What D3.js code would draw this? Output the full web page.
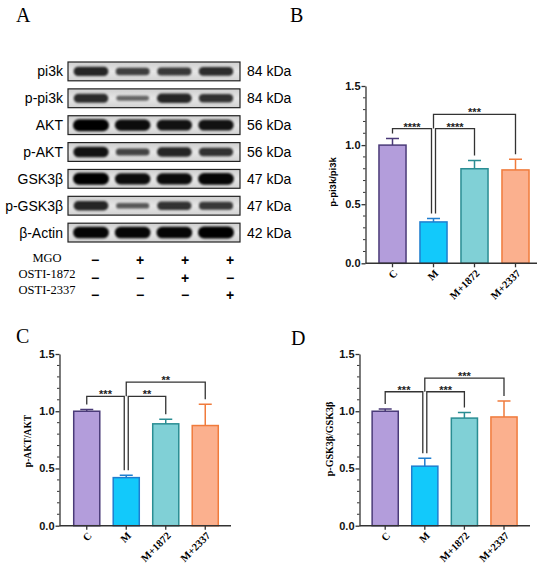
<!DOCTYPE html>
<html>
<head>
<meta charset="utf-8">
<script src="https://cdn.jsdelivr.net/npm/d3@7/dist/d3.min.js"></script>
<style>
  body { margin: 0; background: #fff; }
  svg { display: block; }
</style>
</head>
<body>
<div id="fig"></div>
<script>
// ---- data ----
var groups = ["C", "M", "M+1872", "M+2337"];

var pi3kMean = [1.00, 0.35, 0.80, 0.79];
var pi3kSd   = [0.055, 0.03, 0.07, 0.09];
var pi3kSig  = ["****", "****", "***"];
var pi3kSigAt = [1.14, 1.14, 1.26];

var aktMean = [1.00, 0.42, 0.89, 0.875];
var aktSd   = [0.015, 0.02, 0.04, 0.185];
var aktSig  = ["***", "**", "**"];
var aktSigAt = [1.13, 1.13, 1.255];

var gskMean = [1.00, 0.52, 0.94, 0.95];
var gskSd   = [0.02, 0.07, 0.05, 0.14];
var gskSig  = ["***", "***", "***"];
var gskSigAt = [1.17, 1.17, 1.29];

var comparisons = [[0, 1], [1, 2], [1, 3]];
var yMajor = [0, 0.5, 1.0, 1.5];

var blotRows = ["pi3k", "p-pi3k", "AKT", "p-AKT", "GSK3β", "p-GSK3β", "β-Actin"];
var blotKda = ["84 kDa", "84 kDa", "56 kDa", "56 kDa", "47 kDa", "47 kDa", "42 kDa"];
// relative band signal, lanes 1-4
var bandSignal = [
    [0.70, 0.50, 0.55, 0.65],
    [0.65, 0.20, 0.70, 0.60],
    [1.00, 0.90, 0.85, 0.85],
    [0.85, 0.45, 0.70, 0.60],
    [1.00, 0.90, 0.90, 0.95],
    [0.70, 0.30, 0.60, 0.55],
    [0.95, 0.95, 0.95, 1.00]
];
var treatments = ["MGO", "OSTI-1872", "OSTI-2337"];
var treatSigns = [
    ["−", "+", "+", "+"],
    ["−", "−", "+", "−"],
    ["−", "−", "−", "+"]
];

var fillColors = ["#b39ddb", "#12c9fb", "#80d0d6", "#fbb08e"];
var strokeColors = ["#4a3a78", "#1f7ecf", "#2a8d93", "#f07b3c"];

var serif = "'Liberation Serif', 'Times New Roman', serif";
var sans = "'Liberation Sans', Arial, sans-serif";

var W = 550, H = 568;
var svg = d3.select("#fig").append("svg")
    .attr("width", W)
    .attr("height", H);

var defs = svg.append("defs");
defs.append("filter")
    .attr("id", "blur")
    .attr("x", "-30%").attr("y", "-80%")
    .attr("width", "160%").attr("height", "260%")
    .append("feGaussianBlur")
    .attr("stdDeviation", "1.3 1");

var boxGrad = defs.append("linearGradient")
    .attr("id", "boxGrad")
    .attr("x1", "0%").attr("y1", "0%")
    .attr("x2", "0%").attr("y2", "100%");
boxGrad.append("stop").attr("offset", "0%").attr("stop-color", "#cfcfcf");
boxGrad.append("stop").attr("offset", "50%").attr("stop-color", "#e6e6e6");
boxGrad.append("stop").attr("offset", "100%").attr("stop-color", "#d2d2d2");

// panel letters
var letters = [["A", 16, 22], ["B", 290, 22], ["C", 16, 343], ["D", 291, 345]];
svg.selectAll(".letter")
    .data(letters)
    .join("text")
    .attr("class", "letter")
    .attr("x", d => d[1])
    .attr("y", d => d[2])
    .text(d => d[0])
    .style("font-family", serif)
    .style("font-size", "20px");

// ---- panel A: blot ----
function drawBlot() {
    var g = svg.append("g");
    var rowScale = d3.scaleBand()
        .domain(blotRows)
        .range([62, 242])
        .paddingInner(0.3)
        .paddingOuter(0);
    var laneScale = d3.scalePoint()
        .domain([0, 1, 2, 3])
        .range([91, 216]);
    var thick = d3.scaleLinear().domain([0, 1]).range([3, 12]);
    var dark = d3.scaleLinear().domain([0, 1]).range([0.45, 1]);

    var rows = g.selectAll(".blotRow")
        .data(blotRows.map((r, i) => ({ name: r, kda: blotKda[i], sig: bandSignal[i] })))
        .join("g")
        .attr("class", "blotRow")
        .attr("transform", d => `translate(0,${rowScale(d.name)})`);

    rows.append("rect")
        .attr("x", 68)
        .attr("y", 0)
        .attr("width", 172)
        .attr("height", rowScale.bandwidth())
        .attr("fill", "url(#boxGrad)");

    rows.selectAll(".band")
        .data(d => d.sig)
        .join("rect")
        .attr("class", "band")
        .attr("x", (d, i) => laneScale(i) - 16 - d * 2)
        .attr("width", d => 32 + d * 4)
        .attr("y", d => rowScale.bandwidth() / 2 - thick(d) / 2)
        .attr("height", d => thick(d))
        .attr("rx", d => thick(d) / 2)
        .attr("fill", "#050505")
        .attr("opacity", d => dark(d))
        .attr("filter", "url(#blur)");

    rows.append("rect")
        .attr("x", 68)
        .attr("y", 0)
        .attr("width", 172)
        .attr("height", rowScale.bandwidth())
        .attr("fill", "none")
        .attr("stroke", "#222")
        .attr("stroke-width", 1.2);

    rows.append("text")
        .attr("x", 63)
        .attr("y", rowScale.bandwidth() / 2 + 5)
        .attr("text-anchor", "end")
        .text(d => d.name)
        .style("font-family", sans)
        .style("font-size", "14px");

    rows.append("text")
        .attr("x", 247)
        .attr("y", rowScale.bandwidth() / 2 + 5)
        .text(d => d.kda)
        .style("font-family", sans)
        .style("font-size", "14px");

    // treatment table
    var labelY = d3.scalePoint().domain(treatments).range([258, 290]);
    var signY = d3.scalePoint().domain(treatments).range([260, 295]);
    var signX = d3.scalePoint().domain([0, 1, 2, 3]).range([95, 230]);

    g.selectAll(".treat")
        .data(treatments)
        .join("text")
        .attr("class", "treat")
        .attr("x", 47)
        .attr("y", d => labelY(d) + 4)
        .attr("text-anchor", "middle")
        .text(d => d)
        .style("font-family", serif)
        .style("font-size", "12.5px");

    treatments.forEach((t, ti) => {
        g.selectAll(".sign" + ti)
            .data(treatSigns[ti])
            .join("text")
            .attr("class", "sign" + ti)
            .attr("x", (d, i) => signX(i))
            .attr("y", d => signY(t) + 5)
            .attr("text-anchor", "middle")
            .text(d => d)
            .style("font-family", sans)
            .style("font-weight", "bold")
            .style("font-size", "14px");
    });
}

// ---- bar charts ----
function drawBars(cfg) {
    var g = svg.append("g");
    var x = d3.scaleBand()
        .domain(groups)
        .range(cfg.xRange)
        .paddingInner(0.34)
        .paddingOuter(0.17);
    var y = d3.scaleLinear()
        .domain([0, 1.5])
        .range(cfg.yRange);
    var cx = d => x(d) + x.bandwidth() / 2;
    var data = groups.map((k, i) => ({ key: k, mean: cfg.mean[i], sd: cfg.sd[i], i: i }));

    // bars
    g.selectAll(".bar")
        .data(data)
        .join("rect")
        .attr("class", "bar")
        .attr("x", d => x(d.key))
        .attr("y", d => y(d.mean))
        .attr("width", x.bandwidth())
        .attr("height", d => y(0) - y(d.mean))
        .attr("fill", d => fillColors[d.i])
        .attr("stroke", d => strokeColors[d.i])
        .attr("stroke-width", 1.5);

    // error bars
    g.selectAll(".err")
        .data(data)
        .join("path")
        .attr("class", "err")
        .attr("d", d => {
            var c = cx(d.key), top = y(d.mean + d.sd);
            return `M${c},${y(d.mean)}V${top}M${c - 6.5},${top}H${c + 6.5}`;
        })
        .attr("fill", "none")
        .attr("stroke", d => strokeColors[d.i])
        .attr("stroke-width", 1.5);

    // y axis
    var yAxis = g.append("g")
        .attr("transform", `translate(${cfg.axisX},0)`)
        .call(d3.axisLeft(y)
            .tickValues(yMajor)
            .tickFormat(d3.format(".1f"))
            .tickSize(4)
            .tickSizeOuter(0)
            .tickPadding(1));
    yAxis.selectAll("text")
        .style("font-family", sans)
        .style("font-weight", "bold")
        .style("font-size", "11px")
        .attr("fill", "#111");
    yAxis.selectAll("line, path").attr("stroke", "#333").attr("stroke-width", 1.3);

    var minor = d3.range(0, 15).filter(v => v % 5 !== 0).map(v => v / 10);
    g.selectAll(".minor")
        .data(minor)
        .join("line")
        .attr("class", "minor")
        .attr("x1", cfg.axisX - 2.5)
        .attr("x2", cfg.axisX)
        .attr("y1", d => y(d))
        .attr("y2", d => y(d))
        .attr("stroke", "#333")
        .attr("stroke-width", 1);

    // x axis
    var xAxis = g.append("g")
        .attr("transform", `translate(0,${y(0)})`)
        .call(d3.axisBottom(x).tickSize(4).tickFormat(""));
    xAxis.select(".domain").remove();
    xAxis.selectAll("line").attr("stroke", "#333").attr("stroke-width", 1.3);
    g.append("line")
        .attr("x1", cfg.axisX)
        .attr("x2", cfg.xEnd)
        .attr("y1", y(0))
        .attr("y2", y(0))
        .attr("stroke", "#333")
        .attr("stroke-width", 1.5);

    g.selectAll(".xlab")
        .data(groups)
        .join("text")
        .attr("class", "xlab")
        .attr("transform", d => `translate(${cx(d) + 3},${y(0) + 8}) rotate(-45)`)
        .attr("text-anchor", "end")
        .attr("dy", "0.35em")
        .text(d => d)
        .style("font-family", serif)
        .style("font-weight", "bold")
        .style("font-size", "10.5px");

    // y label
    g.append("text")
        .attr("transform", `translate(${cfg.labelX},${cfg.labelY}) rotate(-90)`)
        .attr("text-anchor", "middle")
        .text(cfg.ylabel)
        .style("font-family", cfg.labelFont)
        .style("font-weight", "bold")
        .style("font-size", cfg.labelSize);

    // significance brackets
    var legEnd = i => y(cfg.mean[i] + cfg.sd[i]) - 5;
    comparisons.forEach((pair, k) => {
        var a = pair[0], b = pair[1];
        var lineY = y(cfg.sigAt[k]);
        var xa = cx(groups[a]), xb = cx(groups[b]);
        var ya = legEnd(a), yb = legEnd(b);
        if (k === 0) xb -= 2;
        if (k === 1) xa += 2;
        if (k === 2) ya = y(cfg.sigAt[1]);
        g.append("path")
            .attr("d", `M${xa},${ya}V${lineY}H${xb}V${yb}`)
            .attr("fill", "none")
            .attr("stroke", "#333")
            .attr("stroke-width", 1.3);
        g.append("text")
            .attr("x", (xa + xb) / 2)
            .attr("y", lineY + 2)
            .attr("text-anchor", "middle")
            .text(cfg.sig[k])
            .style("font-family", sans)
            .style("font-weight", "bold")
            .style("font-size", "11px")
            .attr("fill", "#222");
    });
}

drawBlot();

drawBars({
    mean: pi3kMean, sd: pi3kSd, sig: pi3kSig, sigAt: pi3kSigAt,
    xRange: [372, 536], yRange: [263.3, 86], axisX: 365.5, xEnd: 537,
    ylabel: "p-pi3k/pi3k", labelFont: sans, labelSize: "9.5px", labelX: 336, labelY: 182
});
drawBars({
    mean: aktMean, sd: aktSd, sig: aktSig, sigAt: aktSigAt,
    xRange: [67, 225], yRange: [525.7, 354], axisX: 59.5, xEnd: 231,
    ylabel: "p-AKT/AKT", labelFont: serif, labelSize: "9.5px", labelX: 31, labelY: 441
});
drawBars({
    mean: gskMean, sd: gskSd, sig: gskSig, sigAt: gskSigAt,
    xRange: [365.4, 523.8], yRange: [525.7, 354], axisX: 359.5, xEnd: 530,
    ylabel: "p-GSK3β/GSK3β", labelFont: serif, labelSize: "10px", labelX: 333, labelY: 439
});
</script>
</body>
</html>
